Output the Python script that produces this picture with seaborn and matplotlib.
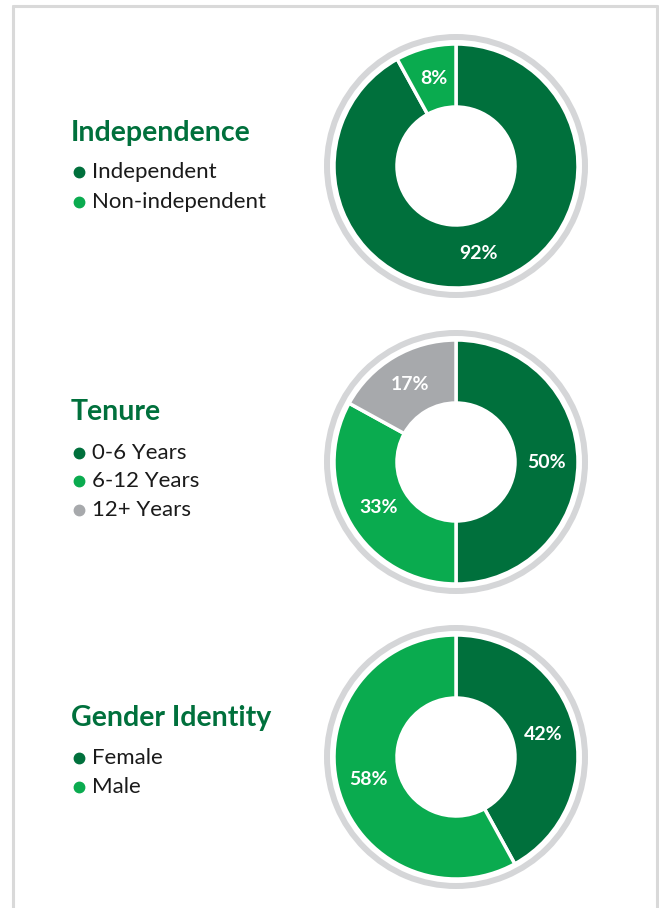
import matplotlib.pyplot as plt
from matplotlib.lines import Line2D
import seaborn as sns

# Datos de las tres secciones
independence_labels = ['Independent', 'Non-independent']
independence_values = [92, 8]

tenure_labels = ['0-6 Years', '6-12 Years', '12+ Years']
tenure_values = [50, 33, 17]

gender_labels = ['Female', 'Male']
gender_values = [42, 58]

DARK_GREEN = '#00703c'
LIGHT_GREEN = '#0aab4f'
GRAY = '#a7a9ac'
RING_GRAY = '#d5d6d8'
FRAME_GRAY = '#d9d9d9'

W, H = 659, 908

sns.set_theme(style='white')
plt.rcParams['font.family'] = ['Lato', 'DejaVu Sans']

fig = plt.figure(figsize=(W / 100, H / 100), dpi=100)
fig.patch.set_facecolor('white')


def fx(px):
    return px / W


def fy(py):
    return 1 - py / H


# Marco gris
for xs, ys in [([13, 657], [6, 6]), ([13, 13], [6, H]), ([657, 657], [6, H])]:
    fig.add_artist(Line2D([fx(x) for x in xs], [fy(y) for y in ys],
                          color=FRAME_GRAY, linewidth=2.2,
                          transform=fig.transFigure))


def draw_section(cy, title, title_y, labels, values, colors, item_ys):
    # Donut
    half = 136
    ax = fig.add_axes([fx(456 - half), fy(cy + half), 2 * half / W, 2 * half / H])
    ax.pie([1], radius=1.32, colors=[RING_GRAY],
           wedgeprops=dict(width=0.06, edgecolor='none'))
    wedges, texts, autotexts = ax.pie(
        values, radius=1.22, colors=colors, startangle=90, counterclock=False,
        autopct='%d%%', pctdistance=0.74,
        wedgeprops=dict(width=0.63, edgecolor='white', linewidth=2.5),
        textprops=dict(color='white', fontsize=14, fontweight='bold'))
    ax.set_xlim(-1.36, 1.36)
    ax.set_ylim(-1.36, 1.36)
    ax.set_aspect('equal')
    ax.axis('off')

    # Titulo y leyenda
    fig.text(fx(71), fy(title_y), title, color=DARK_GREEN, fontsize=20.5,
             fontweight='bold', va='center', ha='left')
    for lab, col, y in zip(labels, colors, item_ys):
        fig.add_artist(Line2D([fx(79)], [fy(y)], marker='o', markersize=7.5,
                              color=col, linestyle='none',
                              transform=fig.transFigure))
        fig.text(fx(92), fy(y), lab, color='#1a1a1a', fontsize=16,
                 va='center', ha='left')


draw_section(166, 'Independence', 133, independence_labels, independence_values,
             [DARK_GREEN, LIGHT_GREEN], [172, 202])
draw_section(462, 'Tenure', 412, tenure_labels, tenure_values,
             [DARK_GREEN, LIGHT_GREEN, GRAY], [453, 481, 510])
draw_section(757, 'Gender Identity', 718, gender_labels, gender_values,
             [DARK_GREEN, LIGHT_GREEN], [758, 787])

fig.savefig('out.png', dpi=100)
